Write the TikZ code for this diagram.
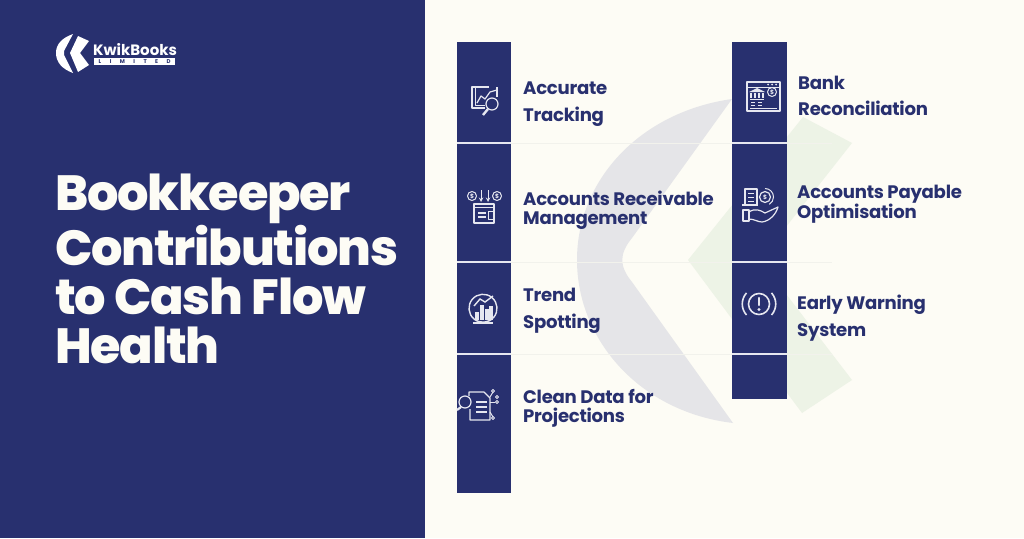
\documentclass[tikz,border=0pt]{standalone}
\usepackage{fontspec}
\setmainfont{Poppins}
\newfontfamily\titlefont{Poppins}[UprightFont=* ExtraBold,LetterSpace=-2.5]
\newfontfamily\labelfont{Poppins}[UprightFont=* Bold,LetterSpace=-1.5]
\newfontfamily\brandfont{Poppins}[UprightFont=* Bold]
\usetikzlibrary{calc}
\definecolor{navy}{HTML}{28306F}
\definecolor{paper}{HTML}{FDFCF5}
\definecolor{wmgray}{HTML}{E5E5E8}
\definecolor{wmgreen}{HTML}{EDF3E6}
\definecolor{rule}{HTML}{F2F2EC}
\definecolor{icon}{HTML}{E6E7F0}
\tikzset{
    Bar/.style = {fill=navy,draw=none},
    Label/.style = {anchor=west,align=left,text=navy,inner sep=0pt,
        font=\labelfont\fontsize{18.1}{26.6}\selectfont},
    Tight/.style = {Label,font=\labelfont\fontsize{18.1}{19}\selectfont},
    Title/.style = {anchor=north west,align=left,text=paper,inner sep=0pt,
        font=\titlefont\fontsize{49.4}{49}\selectfont},
    Ico/.style = {draw=icon,line width=1.2pt,line join=round},
    Fine/.style = {draw=icon,line width=1pt,line join=round}
}
\begin{document}
\begin{tikzpicture}[x=1pt,y=-1pt]
    \useasboundingbox (0,0) rectangle (1024,538);
    \fill[paper] (0,0) rectangle (1024,538);
    \fill[navy] (0,0) rectangle (425,538);
    % watermark
    \fill[wmgreen] (688,260) -- (803,117) -- (852,143) -- (760,260) -- (852,380) -- (802,413) -- cycle;
    \fill[wmgray] (732,99) .. controls (640,112) and (577,180) .. (577,260)
        .. controls (577,340) and (640,412) .. (733,423)
        -- (632,282) .. controls (619,266) and (619,254) .. (632,238) -- cycle;
    \foreach \Y in {143,262,354}
        {\draw[rule,line width=1pt] (457,\Y) -- (832,\Y);}
    % bars
    \fill[Bar] (457,42) rectangle (511,493);
    \fill[Bar] (732,42) rectangle (787,399);
    \foreach \Y in {143,262,354}
        {\draw[icon,line width=1.4pt] (457,\Y) -- (511,\Y);
        \draw[icon,line width=1.4pt] (732,\Y) -- (787,\Y);}
    % logo
    \fill[white] (73,34) .. controls (62,38) and (56,44) .. (56,53)
        .. controls (56,62) and (62,69) .. (73,73) -- (64,55) -- (64,51) -- cycle;
    \fill[white] (78,36) -- (89,41) -- (80,53) -- (89,65) -- (78,72) -- (70,53) -- cycle;
    \node[anchor=west,inner sep=0pt,text=white,font=\brandfont\fontsize{15}{16}\selectfont] (brand) at (93,50) {KwikBooks};
    \node[fill=white,text=navy,inner sep=0pt,minimum width=81pt,minimum height=7pt,anchor=north west,
        font=\brandfont\fontsize{5.5}{5.5}\selectfont] (ltd) at (94,58) {\makebox[72pt][s]{L\hfill I\hfill M\hfill I\hfill T\hfill E\hfill D}};
    % title
    \node[Title] (heading) at (55,174) {Bookkeeper\\Contributions\\to Cash Flow\\Health};
    % labels
    \node[Label] (tracking) at (523,104) {Accurate\\Tracking};
    \node[Tight] (receivable) at (523,210) {Accounts Receivable\\Management};
    \node[Label] (trend) at (523,311) {Trend\\Spotting};
    \node[Tight] (clean) at (523,408) {Clean Data for\\Projections};
    \node[Label] (bank) at (798,96) {Bank\\Reconciliation};
    \node[Tight] (payable) at (797,204.5) {Accounts Payable\\Optimisation};
    \node[Label] (warning) at (797,318) {Early Warning\\System};
    % accurate tracking icon
    \draw[Ico] (489,87) -- (472,87) -- (472,108) -- (485,108);
    \draw[Fine] (475,87) -- (475,105) -- (485,105);
    \draw[Ico] (477,103) -- (481,96) -- (485,99) -- (490,92) -- (497,90);
    \draw[Ico] (497,87) -- (497,97);
    \draw[Ico] (492,104) circle (6);
    \draw[icon,line width=2.4pt] (488,109) -- (483,115);
    % receivable icon
    \foreach \X in {472,497}
        {\draw[Fine] (\X,196) circle (4.5);
        \node[text=icon,inner sep=0pt,font=\brandfont\fontsize{6}{6}\selectfont] (coin\X) at (\X,196) {\$};}
    \foreach \X in {481,488}
        {\draw[Fine,-stealth] (\X,190) -- (\X,202);}
    \draw[Ico] (474,204) rectangle (494,223);
    \draw[Fine] (474,207) -- (494,207);
    \fill[icon] (478,212) rectangle (486,214);
    \fill[icon] (478,216) rectangle (486,218);
    \draw[Fine] (488,211) rectangle (494,219);
    % trend icon
    \draw[icon,line width=1.4pt] (474,319) arc (130:-310:14 and 14);
    \draw[icon,line width=1.8pt] (473,323) -- (493,323);
    \foreach \X/\H in {477/8,482/15,487/11,491/14}
        {\fill[icon] (\X-1.7,320) rectangle (\X+1.7,320-\H);}
    \draw[icon,line width=1.4pt] (474,306) -- (480,299) -- (485,302) -- (493,296);
    % clean data icon
    \draw[Ico] (469,396) -- (469,392) -- (484,392) -- (490,398) -- (490,420) -- (470,420) -- (470,409);
    \foreach \Y in {402,407,412}
        {\draw[icon,line width=1.2pt] (476,\Y) -- (487,\Y);}
    \draw[Ico] (465,402) circle (6);
    \draw[icon,line width=2.2pt] (461,407) -- (457,410);
    \draw[Fine] (490,397) -- (493,392);
    \draw[Fine] (490,402) -- (495,402);
    \draw[Fine] (490,412) -- (493,417);
    \foreach \X/\Y in {493/391,497/402,497/397,493/418}
        {\draw[Fine] (\X,\Y) circle (1.5);}
    % bank icon
    \draw[Ico] (747,82) rectangle (780,111);
    \draw[Fine] (747,87) -- (780,87);
    \foreach \X in {768,772,776}
        {\fill[icon] (\X,84.5) circle (1);}
    \fill[icon] (757,88) -- (765,92) -- (749,92) -- cycle;
    \foreach \X in {751,755,759,763}
        {\fill[icon] (\X-.8,93) rectangle (\X+.8,98);}
    \fill[icon] (750,98.5) rectangle (764,100);
    \draw[Fine] (772,92) circle (4.5);
    \node[text=icon,inner sep=0pt,font=\brandfont\fontsize{6}{6}\selectfont] (bankcoin) at (772,92) {\$};
    \draw[Fine] (751,102) -- (755,102) (758,102) -- (762,102) (751,105) -- (755,105) (758,105) -- (762,105);
    \draw[Fine] (750,108) -- (777,108);
    % payable icon
    \draw[Ico] (745,205) -- (745,189) -- (757,189) -- (757,205);
    \draw[Ico] (742,205) -- (758,205);
    \foreach \Y in {193,197,201}
        {\draw[Fine] (748,\Y) -- (754,\Y);}
    \draw[Ico] (765,197) circle (5.5);
    \node[text=icon,inner sep=0pt,font=\brandfont\fontsize{6}{6}\selectfont] (handcoin) at (765,197) {\$};
    \draw[Fine] (765,188.5) arc (-90:60:8.5);
    \draw[Ico] (743,210) rectangle (749,221);
    \draw[Ico] (749,212) .. controls (755,208) and (760,210) .. (765,213) -- (778,207)
        .. controls (776,214) and (770,221) .. (762,222) .. controls (758,222) and (754,219) .. (749,219);
    % warning icon
    \draw[icon,line width=1.6pt] (759,304) circle (10.5);
    \draw[icon,line width=1.6pt] (746.5,315) arc (138:222:16.5);
    \draw[icon,line width=1.6pt] (771.5,315) arc (42:-42:16.5);
    \draw[icon,line width=2.6pt,line cap=round] (759,298) -- (759,305);
    \fill[icon] (759,309.5) circle (1.6);
\end{tikzpicture}
\end{document}
